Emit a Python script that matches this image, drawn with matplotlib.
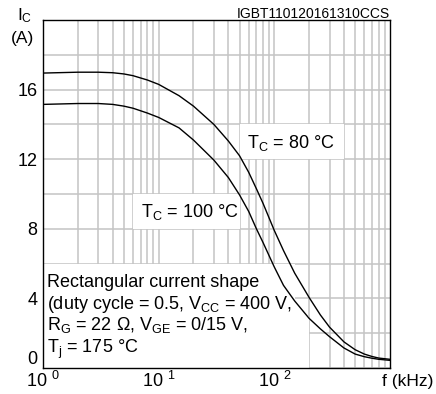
import matplotlib
matplotlib.use('Agg')
import matplotlib.pyplot as plt
from matplotlib.patches import Rectangle
from matplotlib.ticker import LogLocator, NullFormatter, FixedLocator

plt.rcParams['font.family'] = 'Liberation Sans'
plt.rcParams['mathtext.fontset'] = 'custom'
plt.rcParams['mathtext.rm'] = 'Liberation Sans'
plt.rcParams['mathtext.it'] = 'Liberation Sans:italic'
plt.rcParams['mathtext.bf'] = 'Liberation Sans:bold'

# switching frequency (kHz) and collector current (A)
freq = [1, 2, 3, 4, 5, 6, 8, 10, 15, 20, 30, 40, 50, 60, 70, 80, 100, 120, 150, 200, 250, 300, 400, 500, 600, 700, 800, 1000]
ic_80 = [16.95, 17.0, 17.0, 16.97, 16.9, 16.8, 16.55, 16.3, 15.65, 15.05, 14.0, 13.05, 12.2, 11.25, 10.3, 9.45,
         7.9, 6.75, 5.45, 4.05, 3.05, 2.35, 1.5, 1.05, 0.8, 0.66, 0.57, 0.5]
ic_100 = [15.15, 15.2, 15.2, 15.15, 15.05, 14.93, 14.65, 14.4, 13.8, 13.1, 11.95, 10.95, 9.95, 9.0, 8.0, 7.2,
          5.8, 4.75, 3.85, 2.85, 2.25, 1.8, 1.15, 0.8, 0.65, 0.56, 0.5, 0.44]

y_ticks = [0, 2, 4, 6, 8, 10, 12, 14, 16, 18]
y_labels = ['0', '', '4', '', '8', '', '12', '', '16', '']
x_ticks = [1, 10, 100]
x_labels = [r'10 $^{0}$', r'10 $^{1}$', r'10 $^{2}$']

fig = plt.figure(figsize=(4.36, 3.94), dpi=100)
ax = fig.add_axes([43/436, 1 - 368/394, 347/436, 348/394])

ax.plot(freq, ic_80, color='black', lw=1.0, zorder=3)
ax.plot(freq, ic_100, color='black', lw=1.0, zorder=3)

ax.set_xscale('log')
ax.set_xlim(1, 1000)
ax.set_ylim(0, 20)

ax.xaxis.set_major_locator(FixedLocator(x_ticks))
ax.set_xticklabels(x_labels)
ax.xaxis.set_minor_locator(LogLocator(base=10, subs=range(2, 10), numticks=20))
ax.xaxis.set_minor_formatter(NullFormatter())
ax.set_yticks(y_ticks)
ax.set_yticklabels(y_labels)
ax.get_yticklabels()[0].set_verticalalignment('bottom')  # "0" sits on the bottom edge
ax.tick_params(which='both', length=0, labelsize=13)
ax.tick_params(axis='x', pad=2)
ax.tick_params(axis='y', pad=4)

ax.set_axisbelow(True)
ax.grid(True, which='both', color='#c4c4c4', lw=1.1)
for s in ax.spines.values():
    s.set_linewidth(1.0)

# white label boxes covering the grid
for x0, x1, y0, y1 in [(50, 400, 12, 14), (6, 50, 8, 10), (1, 150, 0, 6), (1, 200, 0, 3)]:
    ax.add_patch(Rectangle((x0, y0), x1 - x0, y1 - y0, facecolor='white', edgecolor='none', zorder=1))

ax.text(58, 12.65, r'T$_\mathrm{C}$ = 80 °C', fontsize=13, zorder=4)
ax.text(7.1, 8.65, r'T$_\mathrm{C}$ = 100 °C', fontsize=13, zorder=4)
ax.text(1.08, 4.65, 'Rectangular current shape', fontsize=13, zorder=4)
ax.text(1.08, 3.41, r'(duty cycle = 0.5, V$_\mathrm{CC}$ = 400 V,', fontsize=13, zorder=4)
ax.text(1.08, 2.17, r'R$_\mathrm{G}$ = 22 Ω, V$_\mathrm{GE}$ = 0/15 V,', fontsize=13, zorder=4)
ax.text(1.08, 0.87, r'T$_\mathrm{j}$ = 175 °C', fontsize=13, zorder=4)

fig.text(25/436, 1 - 20.7/394, r'I$_\mathrm{C}$', fontsize=12.5, ha='center')
fig.text(22/436, 1 - 42.7/394, '(A)', fontsize=12.5, ha='center')
fig.text(390/436, 1 - 18.3/394, 'IGBT110120161310CCS', fontsize=10, ha='right')
fig.text(433/436, 1 - 386/394, 'f (kHz)', fontsize=12.5, ha='right')

fig.savefig('out.png', dpi=100)
